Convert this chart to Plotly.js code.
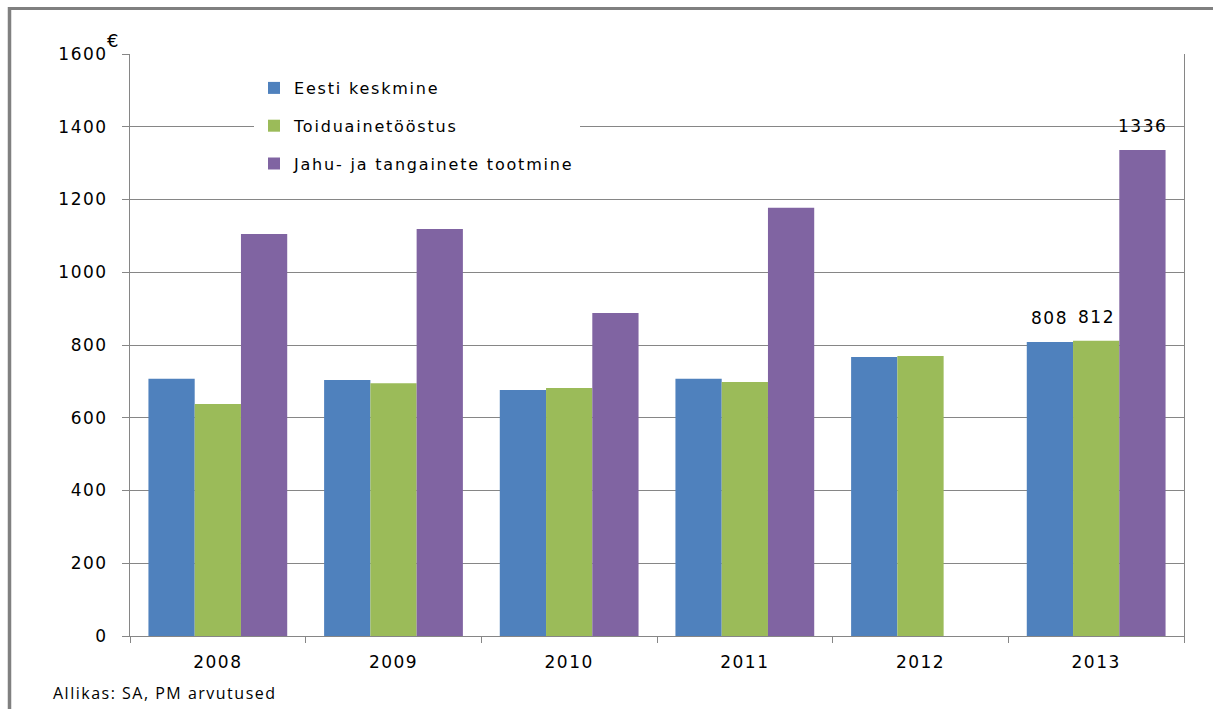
<!DOCTYPE html>
<html>
<head>
<meta charset="utf-8">
<script src="https://cdn.plot.ly/plotly-3.0.1.min.js"></script>
<style>
  html, body { margin: 0; padding: 0; background: #fff; }
  #chart { width: 1213px; height: 709px; }
  .legendtext { letter-spacing: 1.8px; }
  .xtick text, .ytick text { letter-spacing: 1.5px; }
  .annotation-text { letter-spacing: 1.5px; }
</style>
</head>
<body>
<div id="chart"></div>
<script>
// ---- Data ----
const years = ['2008', '2009', '2010', '2011', '2012', '2013'];
const seriesNames = ['Eesti keskmine', 'Toiduainetööstus', 'Jahu- ja tangainete tootmine'];
const eestiKeskmine = [707, 704, 676, 707, 767, 808];
const toiduainetoostus = [638, 695, 682, 698, 770, 812];
const jahuTangained = [1105, 1119, 888, 1177, null, 1336];
const labelYear = '2013';
const sourceText = 'Allikas: SA, PM arvutused';
const unitLabel = '€';

const colors = ['#4F81BD', '#9BBB59', '#8064A2'];
const allSeries = [eestiKeskmine, toiduainetoostus, jahuTangained];

// pixel -> paper helpers (plot area: x 130..1184, y 54..636)
const W = 1213, H = 709, L = 130, R = 29, T = 54, B = 73;
const pw = W - L - R, ph = H - T - B;
const px = x => (x - L) / pw;
const py = y => (H - B - y) / ph;

const traces = allSeries.map((vals, i) => ({
  type: 'bar',
  name: seriesNames[i],
  x: years,
  y: vals,
  marker: { color: colors[i], line: { width: 0 } },
  legendgroup: 'g' + i,
  hoverinfo: 'x+y+name'
}));

const li = years.indexOf(labelYear);
const labelShifts = [-47, 0, 46];
const labelAnns = allSeries.map((vals, i) => ({
  xref: 'x', yref: 'y',
  x: li, y: vals[li],
  text: String(vals[li]),
  showarrow: false,
  xanchor: 'center', yanchor: 'bottom',
  xshift: labelShifts[i], yshift: 12,
  font: { family: 'DejaVu Sans', size: 17, color: '#000' }
}));

const layout = {
  width: W, height: H,
  margin: { l: L, r: R, t: T, b: B, pad: 0 },
  paper_bgcolor: '#ffffff',
  plot_bgcolor: '#ffffff',
  barmode: 'group',
  bargap: 0.21,
  bargroupgap: 0,
  font: { family: 'DejaVu Sans', size: 16, color: '#000' },
  showlegend: true,
  legend: {
    x: px(254), xanchor: 'left',
    y: py(71), yanchor: 'top',
    bgcolor: '#ffffff',
    borderwidth: 0,
    traceorder: 'grouped',
    tracegroupgap: 14,
    font: { family: 'DejaVu Sans', size: 16, color: '#000' }
  },
  xaxis: {
    type: 'category',
    range: [-0.5, years.length - 0.5],
    autorange: false,
    showline: true, linecolor: '#868686', linewidth: 1,
    ticks: 'outside', tickson: 'boundaries', ticklen: 6, tickcolor: '#868686',
    tickfont: { family: 'DejaVu Sans', size: 17, color: '#000' },
    ticklabelstandoff: 11,
    showgrid: false, zeroline: false,
    fixedrange: true
  },
  yaxis: {
    range: [0, 1600], autorange: false, dtick: 200, tick0: 0,
    showline: true, linecolor: '#868686', linewidth: 1, mirror: true,
    ticks: 'outside', ticklen: 7, tickcolor: '#868686',
    tickfont: { family: 'DejaVu Sans', size: 17, color: '#000' },
    ticklabelstandoff: 11,
    showgrid: true, gridcolor: '#868686', gridwidth: 1,
    zeroline: false,
    fixedrange: true
  },
  shapes: [
    { type: 'line', xref: 'paper', yref: 'paper', layer: 'above',
      x0: px(9.5), x1: px(9.5), y0: py(7), y1: py(H + 10),
      line: { color: '#808080', width: 3.5 } },
    { type: 'line', xref: 'paper', yref: 'paper', layer: 'above',
      x0: px(8), x1: px(W + 10), y0: py(8.5), y1: py(8.5),
      line: { color: '#808080', width: 3 } }
  ],
  annotations: labelAnns.concat([
    { xref: 'paper', yref: 'paper', x: px(113), y: py(40),
      text: unitLabel, showarrow: false, xanchor: 'center', yanchor: 'middle',
      font: { family: 'DejaVu Sans', size: 18, color: '#000' } },
    { xref: 'paper', yref: 'paper', x: px(51), y: py(693),
      text: sourceText, showarrow: false, xanchor: 'left', yanchor: 'middle',
      font: { family: 'Open Sans', size: 16, color: '#000' } }
  ])
};

Plotly.newPlot('chart', traces, layout, { displayModeBar: false, staticPlot: true });
</script>
</body>
</html>
